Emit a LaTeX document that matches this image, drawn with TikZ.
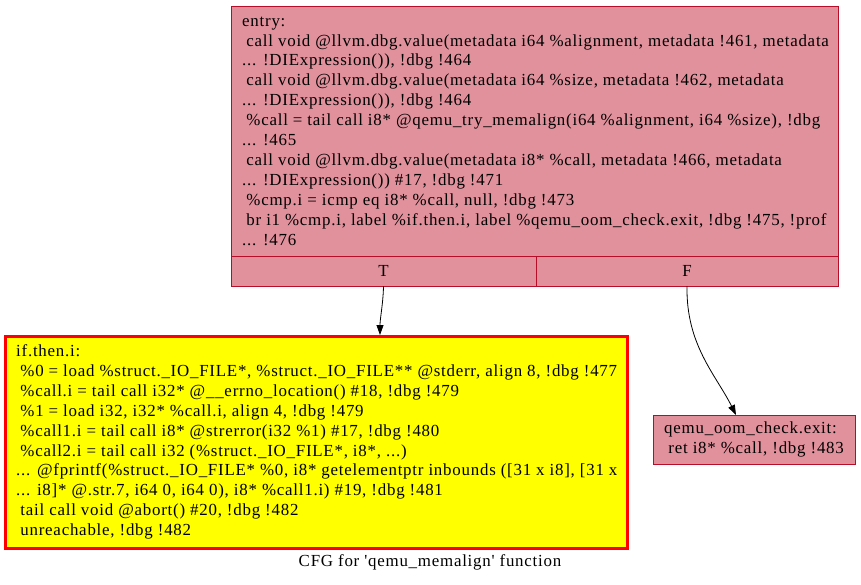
\documentclass[tikz,border=0pt]{standalone}
\usepackage{fontspec}
\newfontfamily\gvfont{Liberation Serif}[LetterSpace=4.5]
\usetikzlibrary{arrows.meta}
\definecolor{blkfill}{RGB}{224,145,156}
\definecolor{blkline}{RGB}{183,13,40}
\definecolor{hotfill}{RGB}{255,255,0}
\definecolor{hotline}{RGB}{255,0,0}
\newcommand{\lsp}{\hspace*{0.25em}}
\begin{document}
\begin{tikzpicture}[x=1pt,y=-1pt,
  blk/.style={draw=blkline, fill=blkfill, line width=0.8pt, inner sep=0pt, rectangle},
  hot/.style={draw=hotline, fill=hotfill, line width=3pt, inner sep=0pt, rectangle},
  txt/.style={font=\gvfont\fontsize{16.9}{19.9}\selectfont},
  code/.style={txt, align=left, inner sep=0pt, anchor=west},
  flow/.style={draw=black, line width=0.8pt, -{Triangle[length=10pt,width=7pt]}}]
\fill[white] (0,0) rectangle (861,584);
\useasboundingbox (0,0) rectangle (861,584);
% entry block
\node[blk, minimum width=607pt, minimum height=250pt] (entry) at (534.5,131) {};
\node[blk, txt, minimum width=305pt, minimum height=30pt] (entryT) at (383.5,271) {T};
\node[blk, txt, minimum width=302pt, minimum height=30pt] (entryF) at (687,271) {F};
\node[code] (entryCode) at (242,131) {entry:\\
\lsp call void @llvm.dbg.value(metadata i64 \%alignment, metadata !461, metadata\\
... !DIExpression()), !dbg !464\\
\lsp call void @llvm.dbg.value(metadata i64 \%size, metadata !462, metadata\\
... !DIExpression()), !dbg !464\\
\lsp\%call = tail call i8* @qemu\_try\_memalign(i64 \%alignment, i64 \%size), !dbg\\
... !465\\
\lsp call void @llvm.dbg.value(metadata i8* \%call, metadata !466, metadata\\
... !DIExpression()) \#17, !dbg !471\\
\lsp\%cmp.i = icmp eq i8* \%call, null, !dbg !473\\
\lsp br i1 \%cmp.i, label \%if.then.i, label \%qemu\_oom\_check.exit, !dbg !475, !prof\\
... !476};
% if.then.i block
\node[hot, minimum width=622pt, minimum height=212pt] (ifthen) at (316,442) {};
\node[code] (ifthenCode) at (16,442) {if.then.i:\\
\lsp\%0 = load \%struct.\_IO\_FILE*, \%struct.\_IO\_FILE** @stderr, align 8, !dbg !477\\
\lsp\%call.i = tail call i32* @\_\_errno\_location() \#18, !dbg !479\\
\lsp\%1 = load i32, i32* \%call.i, align 4, !dbg !479\\
\lsp\%call1.i = tail call i8* @strerror(i32 \%1) \#17, !dbg !480\\
\lsp\%call2.i = tail call i32 (\%struct.\_IO\_FILE*, i8*, ...)\\
... @fprintf(\%struct.\_IO\_FILE* \%0, i8* getelementptr inbounds ([31 x i8], [31 x\\
... i8]* @.str.7, i64 0, i64 0), i8* \%call1.i) \#19, !dbg !481\\
\lsp tail call void @abort() \#20, !dbg !482\\
\lsp unreachable, !dbg !482};
% exit block
\node[blk, minimum width=202pt, minimum height=49pt] (exit) at (754,439.5) {};
\node[code] (exitCode) at (664,439.5) {qemu\_oom\_check.exit:\\
\lsp ret i8* \%call, !dbg !483};
% caption
\node[txt, inner sep=0pt] (caption) at (430,562) {CFG for 'qemu\_memalign' function};
% edges
\coordinate (tEnd) at (380,335);
\coordinate (fEnd) at (736,415);
\draw[flow] (entryT.south) .. controls (383,305) and (380,318) .. (tEnd);
\draw[flow] (entryF.south) .. controls (686,345) and (716,375) .. (fEnd);
\end{tikzpicture}
\end{document}
